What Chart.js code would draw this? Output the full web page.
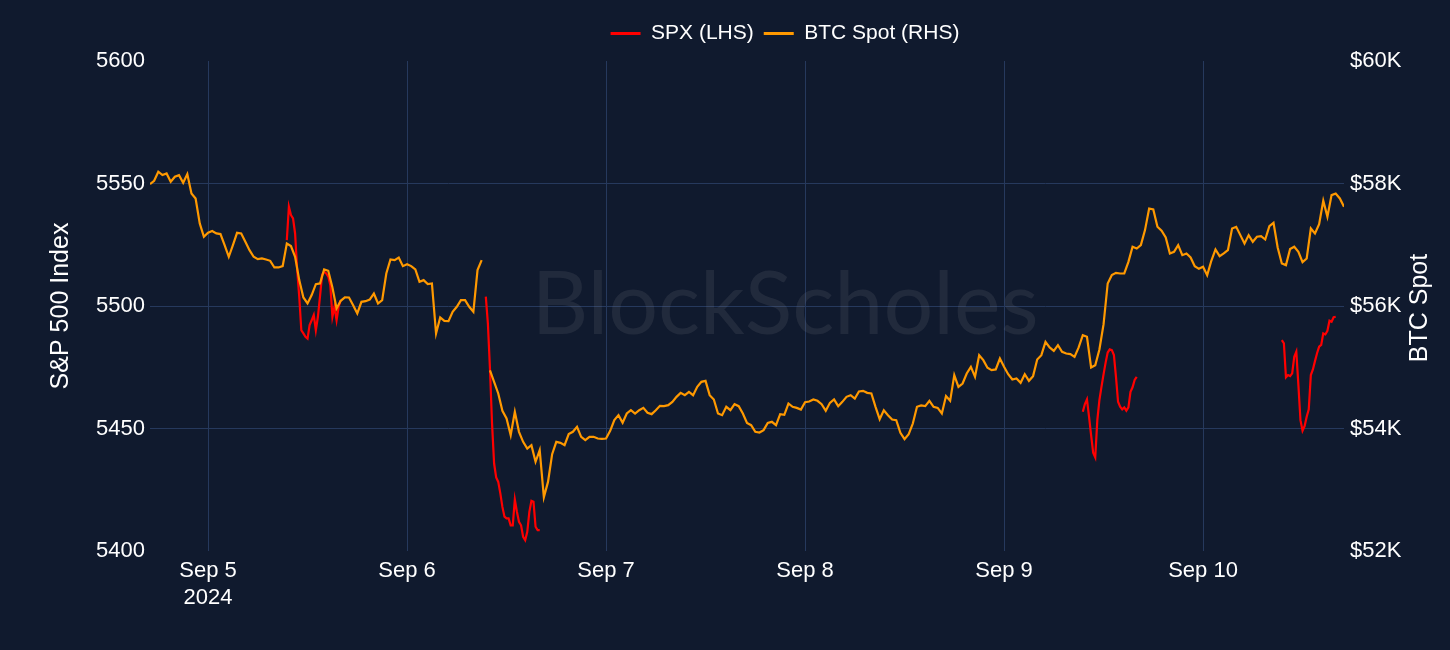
<!DOCTYPE html>
<html>
<head>
<meta charset="utf-8">
<title>SPX vs BTC Spot</title>
<script src="https://cdn.jsdelivr.net/npm/chart.js@4.4.1/dist/chart.umd.min.js"></script>
<style>
  html, body { margin: 0; padding: 0; background: #101a2e; }
  #wrap { width: 1450px; height: 650px; }
</style>
</head>
<body>
<div id="wrap"><canvas id="myChart" width="1450" height="650"></canvas></div>
<script>
// x axis is hours since Sep 5 2024 00:00
var dayTicks = [0, 24, 48, 72, 96, 120];
var dayLabels = [['Sep 5', '2024'], 'Sep 6', 'Sep 7', 'Sep 8', 'Sep 9', 'Sep 10'];

// BTC spot, every 30 min from Sep 4 17:00 (null = missing print)
var btcStartHour = -7;
var btcStepHours = 0.5;
var btcValues = [
  // Sep 4 17:00 -> Sep 5 16:30
  57990, 58045, 58192, 58137, 58164, 58028, 58110, 58137, 58012, 58153, 57838, 57756,
  57348, 57130, 57195, 57223, 57185, 57174, 56994, 56804, 56994, 57195, 57185, 57048,
  56912, 56804, 56765, 56776, 56760, 56738, 56629, 56629, 56651, 57021, 56978, 56804,
  56423, 56140, 56042, 56178, 56357, 56368, 56597, 56575, 56303, 55960, 56085, 56140,
  // Sep 5 17:00 -> Sep 6 16:30
  56139, 56014, 55878, 56068, 56079, 56106, 56204, 56041, 56096, 56531, 56760, 56749,
  56792, 56651, 56683, 56651, 56596, 56395, 56422, 56357, 56368, 55551, 55813, 55758,
  55753, 55905, 55987, 56096, 56096, 55987, 55905, 56586, 56749, null, 54950, 54762,
  54572, 54288, 54163, 53891, 54272, 53946, 53782, 53673, 53728, 53456, 53646, 52879,
  // Sep 6 17:00 -> Sep 7 16:30
  53128, 53581, 53782, 53766, 53728, 53908, 53946, 54027, 53864, 53810, 53864, 53864,
  53837, 53831, 53837, 53962, 54136, 54218, 54093, 54245, 54299, 54245, 54299, 54337,
  54256, 54234, 54299, 54370, 54365, 54381, 54435, 54517, 54582, 54544, 54599, 54544,
  54680, 54762, 54778, 54544, 54474, 54245, 54218, 54354, 54299, 54397, 54365, 54245,
  // Sep 7 17:00 -> Sep 8 16:30
  54090, 54054, 53946, 53935, 53973, 54092, 54109, 54054, 54234, 54223, 54408, 54354,
  54337, 54310, 54430, 54441, 54474, 54452, 54397, 54288, 54419, 54474, 54365, 54435,
  54517, 54544, 54490, 54604, 54615, 54582, 54572, 54354, 54152, 54299, 54218, 54147,
  54136, 53929, 53826, 53908, 54081, 54354, 54376, 54365, 54452, 54354, 54337, 54245,
  // Sep 8 17:00 -> Sep 9 16:30
  54530, 54452, 54871, 54680, 54735, 54898, 55007, 54844, 55197, 55116, 54991, 54953,
  54964, 55143, 55007, 54887, 54800, 54817, 54746, 54887, 54778, 54855, 55127, 55197,
  55415, 55323, 55268, 55361, 55252, 55225, 55214, 55170, 55323, 55524, 55497, 54996,
  55034, 55290, 55700, 56368, 56504, 56542, 56531, 56531, 56720, 56966, 56939, 56994,
  // Sep 9 17:00 -> Sep 10 17:00
  57239, 57592, 57576, 57293, 57228, 57119, 56858, 56885, 56994, 56830, 56858, 56792,
  56651, 56607, 56640, 56504, 56738, 56923, 56814, 56858, 56912, 57266, 57293, 57157,
  57021, 57157, 57048, 57130, 57141, 57086, 57304, 57358, 56956, 56694, 56667, 56929,
  56967, 56885, 56716, 56776, 57266, 57184, 57337, 57718, 57456, 57810, 57837, 57756,
  57620
];

// S&P 500, every 15 min of each cash session (9:30 -> 16:00)
var spxSessionStarts = [9.5, 33.5, 105.5, 129.5];
var spxStepHours = 0.25;
var spxSep5 = [
  5526.9, 5540.5, 5537.1, 5535.8, 5529.6, 5514.7, 5503.8, 5490.1, 5488.8, 5487.4,
  5486.7, 5492.2, 5494.2, 5496.3, 5490.1, 5495.6, 5503.8, 5512.6, 5514.0, 5513.3,
  5512.0, 5508.5, 5495.6, 5499.7, 5494.2, 5499.7, 5502.4
];
var spxSep6 = [
  5503.8, 5492.9, 5474.5, 5452.1, 5435.7, 5430.0, 5428.2, 5423.5, 5418.0, 5414.0,
  5413.3, 5413.3, 5410.5, 5410.5, 5421.0, 5416.0, 5411.9, 5410.5, 5405.8, 5404.4,
  5407.8, 5416.0, 5420.5, 5420.1, 5409.9, 5408.5, 5408.5
];
var spxSep9 = [
  5456.8, 5460.0, 5461.9, 5454.8, 5447.3, 5440.1, 5438.2, 5453.4, 5461.6, 5467.0,
  5472.1, 5476.9, 5481.0, 5482.3, 5482.0, 5480.0, 5471.1, 5460.9, 5458.9, 5457.8,
  5458.6, 5457.3, 5458.6, 5465.0, 5466.8, 5469.8, 5471.1
];
var spxSep10 = [
  5486.1, 5484.8, 5470.9, 5471.8, 5471.4, 5472.5, 5479.3, 5481.4, 5467.7, 5453.4,
  5449.1, 5451.0, 5454.8, 5457.8, 5471.8, 5474.1, 5477.5, 5480.7, 5483.4, 5484.1,
  5488.8, 5488.4, 5489.9, 5494.0, 5493.6, 5495.4, 5495.6
];

var bgColor = '#101a2e';
var gridColor = '#26395d';
var fontFamily = '"Liberation Sans", Arial, Helvetica, sans-serif';

function toPoints(start, step, values) {
    return values.map(function (v, i) { return { x: start + i * step, y: v }; });
}

var btcData = toPoints(btcStartHour, btcStepHours, btcValues);
var spxData = [];
[spxSep5, spxSep6, spxSep9, spxSep10].forEach(function (vals, k) {
    if (k > 0) spxData.push({ x: spxSessionStarts[k] - 1, y: null }); // break between sessions
    spxData = spxData.concat(toPoints(spxSessionStarts[k], spxStepHours, vals));
});

Chart.defaults.font.family = fontFamily;
Chart.defaults.color = '#ffffff';

var background = {
    id: 'background',
    beforeDraw: function (chart) {
        var c = chart.ctx;
        c.save();
        c.fillStyle = bgColor;
        c.fillRect(0, 0, chart.width, chart.height);
        c.restore();
    },
    beforeDatasetsDraw: function (chart) {
        // faint watermark
        var c = chart.ctx;
        c.save();
        c.font = '88px Lato, ' + fontFamily;
        c.fillStyle = 'rgba(140,140,150,0.14)';
        c.textAlign = 'center';
        c.textBaseline = 'middle';
        c.fillText('BlockScholes', 785, 306);
        c.restore();
    },
    afterDraw: function (chart) {
        // right axis title reads bottom-to-top like the left one
        var c = chart.ctx;
        c.save();
        c.translate(1420, 308);
        c.rotate(-Math.PI / 2);
        c.font = '25px ' + fontFamily;
        c.fillStyle = '#ffffff';
        c.textAlign = 'center';
        c.textBaseline = 'middle';
        c.fillText('BTC Spot', 0, 0);
        c.restore();
    }
};

var legendPlace = {
    id: 'legendPlace',
    beforeInit: function (chart) {
        var fit = chart.legend.fit;
        chart.legend.fit = function () {
            fit.call(this);
            this.height = 61;
        };
    },
    afterLayout: function (chart) {
        var lg = chart.legend;
        lg.left += 60; lg.right += 60;
        lg.top += 13; lg.bottom += 13;
    }
};

var ctx = document.getElementById('myChart').getContext('2d');
var chart = new Chart(ctx, {
    type: 'line',
    data: {
        datasets: [{
            label: 'SPX (LHS)',
            data: spxData,
            yAxisID: 'ySpx',
            borderColor: '#ff0000',
            backgroundColor: '#ff0000',
            borderWidth: 2.2,
            pointRadius: 0,
            spanGaps: false,
            order: 1
        }, {
            label: 'BTC Spot (RHS)',
            data: btcData,
            yAxisID: 'yBtc',
            borderColor: '#ff9900',
            backgroundColor: '#ff9900',
            borderWidth: 2.2,
            pointRadius: 0,
            spanGaps: false,
            order: 0
        }]
    },
    options: {
        responsive: false,
        devicePixelRatio: 1,
        animation: false,
        layout: { padding: 0 },
        scales: {
            x: {
                type: 'linear',
                min: -7,
                max: 137,
                afterBuildTicks: function (s) {
                    s.ticks = dayTicks.map(function (v) { return { value: v }; });
                },
                afterFit: function (s) { s.height = 99; },
                ticks: {
                    autoSkip: false,
                    maxRotation: 0,
                    padding: 6,
                    color: '#ffffff',
                    font: { size: 22, lineHeight: 1.25 },
                    callback: function (v) { return dayLabels[dayTicks.indexOf(v)]; }
                },
                grid: { color: gridColor, drawTicks: false },
                border: { display: false }
            },
            ySpx: {
                position: 'left',
                min: 5400,
                max: 5600,
                afterFit: function (s) { s.width = 150; },
                ticks: {
                    stepSize: 50,
                    padding: 5,
                    color: '#ffffff',
                    font: { size: 22 },
                    callback: function (v) { return String(v); }
                },
                grid: {
                    drawTicks: false,
                    color: function (c) {
                        if (c.tick && (c.tick.value === 5400 || c.tick.value === 5600)) return 'rgba(0,0,0,0)';
                        return gridColor;
                    }
                },
                border: { display: false },
                title: {
                    display: true,
                    text: 'S&P 500 Index',
                    color: '#ffffff',
                    font: { size: 25 },
                    padding: { top: 46, bottom: 0 }
                }
            },
            yBtc: {
                position: 'right',
                min: 52000,
                max: 60000,
                afterFit: function (s) { s.width = 106; },
                ticks: {
                    stepSize: 2000,
                    padding: 6,
                    color: '#ffffff',
                    font: { size: 22 },
                    callback: function (v) { return '$' + (v / 1000) + 'K'; }
                },
                grid: { drawOnChartArea: false, drawTicks: false },
                border: { display: false }
            }
        },
        plugins: {
            tooltip: { enabled: false },
            legend: {
                position: 'top',
                labels: {
                    boxWidth: 30,
                    boxHeight: 3,
                    padding: 10,
                    color: '#ffffff',
                    font: { size: 21 },
                    generateLabels: function (chart) {
                        var items = Chart.defaults.plugins.legend.labels.generateLabels(chart);
                        items.forEach(function (it) { it.lineWidth = 0; });
                        return items.sort(function (a, b) { return a.datasetIndex - b.datasetIndex; });
                    }
                }
            }
        }
    },
    plugins: [background, legendPlace]
});
</script>
</body>
</html>
